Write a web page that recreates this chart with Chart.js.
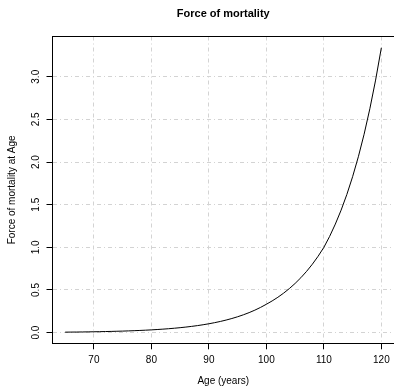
<!DOCTYPE html>
<html>
<head>
<meta charset="utf-8">
<script src="https://cdn.jsdelivr.net/npm/chart.js@4/dist/chart.umd.min.js"></script>
<style>
  html, body { margin: 0; padding: 0; background: #fff; }
  #wrap { width: 394px; height: 392px; }
</style>
</head>
<body>
<div id="wrap"><canvas id="mortChart"></canvas></div>
<script>
// ages and force of mortality
const ages = [65, 66, 67, 68, 69, 70, 71, 72, 73, 74, 75, 76, 77, 78, 79, 80,
  81, 82, 83, 84, 85, 86, 87, 88, 89, 90, 91, 92, 93, 94, 95, 96, 97, 98, 99, 100,
  101, 102, 103, 104, 105, 106, 107, 108, 109, 110, 111, 112, 113, 114, 115, 116,
  117, 118, 119, 120];
const mu = [0.0057, 0.0064, 0.0071, 0.0080, 0.0090, 0.0101, 0.0114, 0.0128, 0.0144,
  0.0161, 0.0181, 0.0204, 0.0229, 0.0257, 0.0289, 0.0325, 0.0365, 0.0410, 0.0460,
  0.0517, 0.0581, 0.0653, 0.0733, 0.0824, 0.0926, 0.1040, 0.1169, 0.1313, 0.1475,
  0.1656, 0.1861, 0.2090, 0.2348, 0.2637, 0.2963, 0.3328, 0.3715, 0.4147, 0.4629,
  0.5168, 0.5769, 0.6440, 0.7189, 0.8025, 0.8958, 1.0, 1.128, 1.273, 1.436, 1.620,
  1.828, 2.062, 2.326, 2.625, 2.961, 3.340];
const xTicks = [70, 80, 90, 100, 110, 120];
const yTicks = [0, 0.5, 1, 1.5, 2, 2.5, 3];

Chart.defaults.font.family = "'Liberation Sans', Arial, sans-serif";
Chart.defaults.font.size = 10;
Chart.defaults.color = "#000";

const points = ages.map((a, i) => ({ x: a, y: mu[i] }));

const gridCol = "#d3d3d3";

// keep the plot box where the reference has it (no extra label padding)
function noPad(s) {
  s.paddingLeft = 0;
  s.paddingRight = 0;
  s.paddingTop = 0;
  s.paddingBottom = 0;
}

new Chart(document.getElementById("mortChart"), {
  type: "line",
  data: {
    datasets: [
      {
        data: points,
        borderColor: "#000",
        borderWidth: 1,
        pointRadius: 0,
        tension: 0,
        fill: false,
      },
    ],
  },
  options: {
    responsive: true,
    maintainAspectRatio: false,
    animation: false,
    devicePixelRatio: 1,
    layout: { padding: 0 },
    plugins: { legend: { display: false }, tooltip: { enabled: false } },
    scales: {
      x: {
        type: "linear",
        position: "bottom",
        min: 62.8,
        max: 122.2,
        afterBuildTicks: (s) => { s.ticks = xTicks.map((v) => ({ value: v })); },
        afterFit: (s) => { s.height = 48.7; noPad(s); },
        ticks: { padding: 5, maxRotation: 0, callback: (v) => String(v) },
        grid: {
          color: gridCol,
          lineWidth: 1,
          tickLength: 6,
          tickColor: "#000",
          tickWidth: 1,
        },
        border: { display: true, color: "#000", width: 1, dash: [4, 3, 1, 3] },
        title: { display: true, text: "Age (years)", padding: 5, font: { size: 10 } },
      },
      top: {
        type: "linear",
        position: "top",
        min: 62.8,
        max: 122.2,
        afterFit: (s) => { s.height = 36.5; noPad(s); },
        ticks: { display: false },
        grid: { drawOnChartArea: false, drawTicks: false },
        border: { display: true, color: "#000", width: 1 },
        title: {
          display: true,
          text: "Force of mortality",
          padding: { top: 7.5, bottom: 0 },
          font: { size: 11, weight: "bold" },
        },
      },
      y: {
        type: "linear",
        position: "left",
        min: -0.125,
        max: 3.472,
        afterBuildTicks: (s) => { s.ticks = yTicks.map((v) => ({ value: v })); },
        afterFit: (s) => { s.width = 52.5; noPad(s); },
        ticks: {
          padding: 3,
          minRotation: 90,
          maxRotation: 90,
          crossAlign: "center",
          callback: (v) => v.toFixed(1),
        },
        grid: {
          color: gridCol,
          lineWidth: 1,
          tickLength: 6,
          tickColor: "#000",
          tickWidth: 1,
        },
        border: { display: true, color: "#000", width: 1, dash: [4, 3, 1, 3] },
        title: { display: true, text: "Force of mortality at Age", padding: 6.5, font: { size: 10 } },
      },
    },
  },
});
</script>
</body>
</html>
